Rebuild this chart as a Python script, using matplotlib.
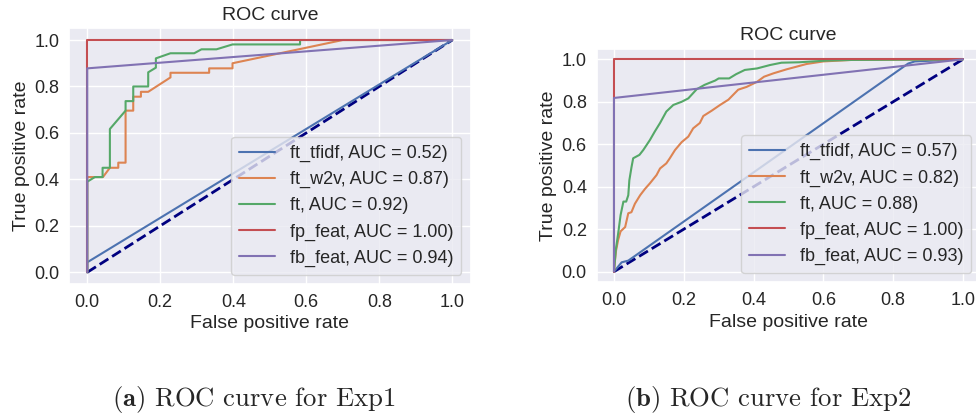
import matplotlib
matplotlib.use("Agg")
import matplotlib.pyplot as plt
import seaborn as sns

# Exp1 ROC curves (fpr, tpr)
exp1_tfidf_fpr = [0, 0, 1]
exp1_tfidf_tpr = [0, 0.043, 1]
exp1_w2v_fpr = [0, 0, 0.043, 0.062, 0.085, 0.085, 0.105, 0.105, 0.126, 0.126,
                0.147, 0.147, 0.167, 0.228, 0.228, 0.334, 0.334, 0.398, 0.398,
                0.70, 1]
exp1_w2v_tpr = [0, 0.41, 0.41, 0.45, 0.45, 0.472, 0.472, 0.696, 0.696, 0.756,
                0.756, 0.777, 0.777, 0.839, 0.859, 0.859, 0.878, 0.878, 0.90,
                1.0, 1]
exp1_ft_fpr = [0, 0, 0.021, 0.042, 0.042, 0.062, 0.062, 0.105, 0.105, 0.126,
               0.126, 0.167, 0.167, 0.188, 0.188, 0.228, 0.293, 0.313, 0.354,
               0.398, 0.583, 0.583, 1]
exp1_ft_tpr = [0, 0.39, 0.41, 0.41, 0.45, 0.45, 0.617, 0.696, 0.737, 0.737,
               0.80, 0.80, 0.861, 0.881, 0.921, 0.943, 0.943, 0.96, 0.96,
               0.981, 0.981, 1.0, 1]
exp1_fp_fpr = [0, 0, 1]
exp1_fp_tpr = [0, 1, 1]
exp1_fb_fpr = [0, 0, 1]
exp1_fb_tpr = [0, 0.878, 1]
exp1_auc = [0.52, 0.87, 0.92, 1.00, 0.94]

# Exp2 ROC curves
exp2_tfidf_fpr = [0, 0.022, 0.041, 0.843, 0.862, 1]
exp2_tfidf_tpr = [0, 0.044, 0.052, 0.98, 0.99, 1]
exp2_w2v_fpr = [0, 0.003, 0.006, 0.012, 0.019, 0.032, 0.041, 0.05, 0.06, 0.075,
                0.089, 0.103, 0.122, 0.132, 0.15, 0.16, 0.175, 0.194, 0.213,
                0.227, 0.246, 0.256, 0.28, 0.304, 0.328, 0.356, 0.38, 0.41,
                0.43, 0.457, 0.495, 0.552, 0.60, 0.68, 1]
exp2_w2v_tpr = [0, 0.055, 0.10, 0.15, 0.19, 0.21, 0.275, 0.28, 0.32, 0.36,
                0.39, 0.416, 0.455, 0.486, 0.51, 0.534, 0.573, 0.61, 0.636,
                0.675, 0.70, 0.733, 0.758, 0.785, 0.81, 0.857, 0.87, 0.894,
                0.918, 0.934, 0.953, 0.978, 0.99, 0.997, 1]
exp2_ft_fpr = [0, 0.005, 0.012, 0.019, 0.027, 0.035, 0.041, 0.044, 0.05, 0.055,
               0.073, 0.084, 0.103, 0.117, 0.132, 0.15, 0.17, 0.194, 0.213,
               0.237, 0.26, 0.29, 0.30, 0.33, 0.35, 0.375, 0.41, 0.447, 0.48,
               0.53, 0.61, 0.68, 1]
exp2_ft_tpr = [0, 0.10, 0.18, 0.267, 0.33, 0.33, 0.36, 0.43, 0.49, 0.534,
               0.55, 0.573, 0.62, 0.66, 0.70, 0.754, 0.785, 0.80, 0.816,
               0.859, 0.88, 0.90, 0.91, 0.91, 0.93, 0.95, 0.957, 0.973, 0.984,
               0.986, 0.994, 0.997, 1]
exp2_fp_fpr = [0, 0, 1]
exp2_fp_tpr = [0, 1, 1]
exp2_fb_fpr = [0, 0, 1]
exp2_fb_tpr = [0, 0.818, 1]
exp2_auc = [0.57, 0.82, 0.88, 1.00, 0.93]

names = ["ft_tfidf", "ft_w2v", "ft", "fp_feat", "fb_feat"]
captions = [r"$\mathbf{(a)}$ ROC curve for Exp1",
            r"$\mathbf{(b)}$ ROC curve for Exp2"]


def draw_roc(ax, curves, aucs, xlab_y, ylab_x):
    """one ROC panel with the chance diagonal"""
    ax.plot([0, 1], [0, 1], color="navy", lw=2, linestyle="--")
    for (fpr, tpr), name, auc in zip(curves, names, aucs):
        ax.plot(fpr, tpr, lw=1.5, label="%s, AUC = %0.2f)" % (name, auc))
    ax.set_title("ROC curve", fontsize=14)
    ax.set_xlabel("False positive rate", fontsize=14)
    ax.set_ylabel("True positive rate", fontsize=14)
    ax.xaxis.set_label_coords(0.5, xlab_y)
    ax.yaxis.set_label_coords(ylab_x, 0.5)
    ax.tick_params(labelsize=13, length=0, pad=7)
    ax.legend(loc="lower right", fontsize=13, borderpad=0.45)


def main():
    sns.set_theme(style="darkgrid")
    plt.rcParams["font.family"] = ["Liberation Sans", "DejaVu Sans"]
    plt.rcParams["mathtext.fontset"] = "cm"
    fig = plt.figure(figsize=(9.76, 4.19), dpi=100)

    ax1 = fig.add_axes([69 / 976, 0.3224, 401.5 / 976, 0.6098])
    draw_roc(ax1, [(exp1_tfidf_fpr, exp1_tfidf_tpr),
                   (exp1_w2v_fpr, exp1_w2v_tpr),
                   (exp1_ft_fpr, exp1_ft_tpr),
                   (exp1_fp_fpr, exp1_fp_tpr),
                   (exp1_fb_fpr, exp1_fb_tpr)], exp1_auc, -0.1236, -0.0963)

    ax2 = fig.add_axes([0.6112, 0.3263, 0.3933, 0.5575])
    draw_roc(ax2, [(exp2_tfidf_fpr, exp2_tfidf_tpr),
                   (exp2_w2v_fpr, exp2_w2v_tpr),
                   (exp2_ft_fpr, exp2_ft_tpr),
                   (exp2_fp_fpr, exp2_fp_tpr),
                   (exp2_fb_fpr, exp2_fb_tpr)], exp2_auc, -0.1349, -0.1029)

    fig.text(254 / 976, 1 - 399 / 419, captions[0], family="cmr10",
             fontsize=19.2, ha="center", va="center")
    fig.text(768 / 976, 1 - 399 / 419, captions[1], family="cmr10",
             fontsize=19.2, ha="center", va="center")

    fig.savefig("out.png", dpi=100)


if __name__ == "__main__":
    main()
